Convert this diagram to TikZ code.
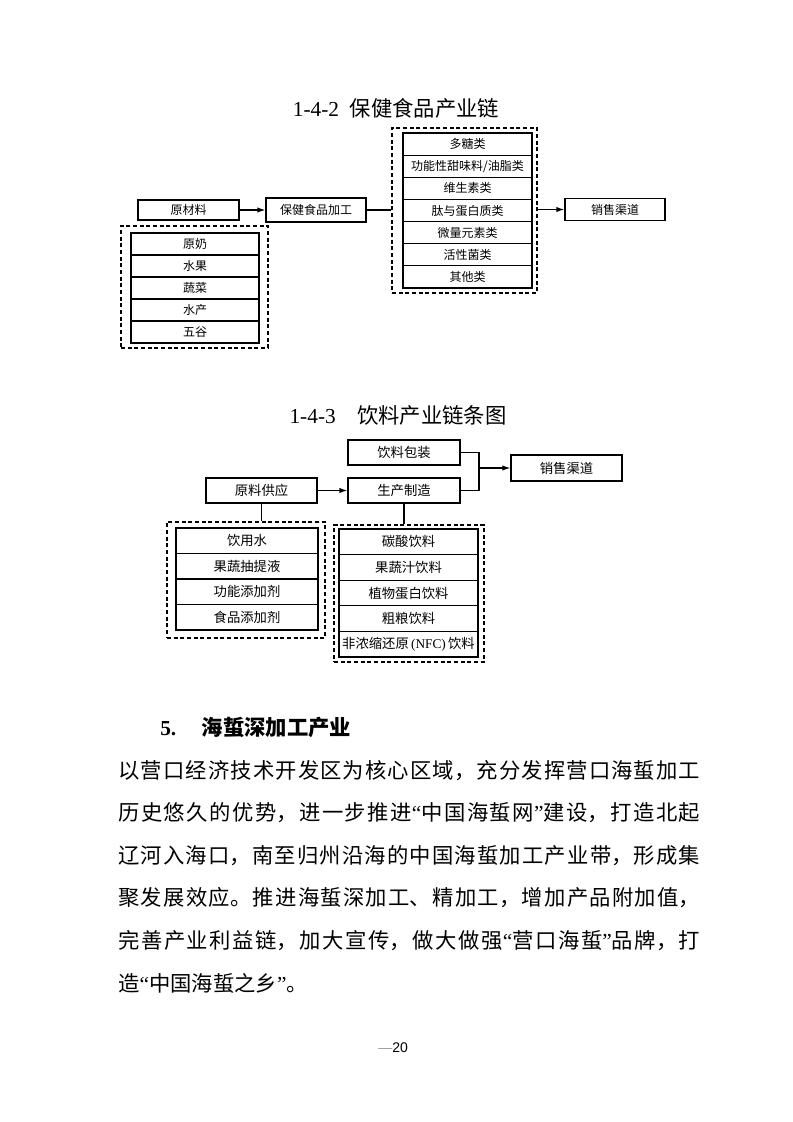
\documentclass[tikz,border=0pt]{standalone}
\usepackage{fontspec}
\setmainfont{Noto Sans CJK SC}
\newfontfamily\latinfont{Liberation Serif}
\newfontfamily\numfont{Liberation Sans}
\usetikzlibrary{arrows.meta,positioning}
\definecolor{ink}{HTML}{000000}
\definecolor{muted}{HTML}{9A9A9A}
\XeTeXlinebreaklocale "zh"
\XeTeXlinebreakskip=0pt plus 2pt
\newcommand{\openq}{{\latinfont “}}
\newcommand{\closeq}{{\latinfont ”}}
\tikzset{
  cell/.style={draw=ink,line width=0.9pt,fill=white,inner sep=0pt,align=center,text=ink},
  smallcell/.style={cell,font=\fontsize{9}{10}\selectfont},
  bigcell/.style={cell,font=\fontsize{10}{11}\selectfont},
  dashbox/.style={draw=ink,line width=0.9pt,dash pattern=on 3pt off 2pt,inner sep=0pt},
  arrow/.style={-{Latex[length=6pt,width=4pt]},line width=0.9pt,color=ink},
  link/.style={line width=0.9pt,color=ink},
  figtitle/.style={font=\fontsize{16}{20}\selectfont,anchor=base,inner sep=0pt,text=ink},
  bodytext/.style={font=\fontsize{16}{31.95}\selectfont,anchor=base west,inner sep=0pt,text width=436.5pt,align=justify,text=ink},
}
\begin{document}
\begin{tikzpicture}[x=0.75pt,y=-0.75pt]
  \path[use as bounding box,fill=white] (0,0) rectangle (793,1122);
  % 1-4-2
  \node[figtitle] (title1) at (396,116) {{\latinfont 1-4-2}\enspace 保健食品产业链};
  \node[smallcell,minimum width=75.75pt,minimum height=15pt] (raw) at (188.5,210) {原材料};
  \node[smallcell,minimum width=75pt,minimum height=18pt] (proc) at (316,210) {保健食品加工};
  \node[smallcell,minimum width=75pt,minimum height=17pt] (sales1) at (615,209.5) {销售渠道};
  \node[dashbox,minimum width=110.25pt,minimum height=91.5pt] (rawset) at (194.5,287) {};
  \foreach \t [count=\i from 0] in {原奶,水果,蔬菜,水产,五谷}
    \node[smallcell,minimum width=96pt,minimum height=16.5pt] (raw\i) at (195,244+22*\i) {\t};
  \node[dashbox,minimum width=108.75pt,minimum height=123.75pt] (prodset) at (464.5,210.5) {};
  \foreach \t [count=\i from 0] in {多糖类,功能性甜味料/油脂类,维生素类,肽与蛋白质类,微量元素类,活性菌类,其他类}
    \node[smallcell,minimum width=96.75pt,minimum height=16.6pt] (cat\i) at (467.5,144.1+22.14*\i) {\t};
  \draw[arrow] (raw) -- (proc);
  \draw[link] (proc.east) -- (proc.east -| prodset.west);
  \draw[arrow] (prodset.east |- sales1.west) -- (sales1.west);

  % 1-4-3
  \node[figtitle] (title2) at (398,423) {{\latinfont 1-4-3}\quad 饮料产业链条图};
  \node[bigcell,minimum width=84pt,minimum height=18.75pt] (pack) at (404,452.5) {饮料包装};
  \node[bigcell,minimum width=84pt,minimum height=18.75pt] (make) at (404,490.5) {生产制造};
  \node[bigcell,minimum width=83.25pt,minimum height=18.75pt] (supply) at (261.5,490.5) {原料供应};
  \node[bigcell,minimum width=83.25pt,minimum height=19.5pt] (sales2) at (566.5,468) {销售渠道};
  \coordinate (fork) at (479,468);
  \node[dashbox,minimum width=118.5pt,minimum height=87pt] (inset) at (246,580) {};
  \foreach \t [count=\i from 0] in {饮用水,果蔬抽提液,功能添加剂,食品添加剂}
    \node[bigcell,minimum width=106.5pt,minimum height=19.125pt] (in\i) at (247,540.75+25.5*\i) {\t};
  \node[dashbox,minimum width=112.5pt,minimum height=102.75pt] (drinkset) at (409,593.5) {};
  \foreach \t [count=\i from 0] in {碳酸饮料,果蔬汁饮料,植物蛋白饮料,粗粮饮料,非浓缩还原{\latinfont\,(NFC)\,}饮料}
    \node[bigcell,minimum width=104.25pt,minimum height=19.2pt] (drink\i) at (408.5,541.8+25.6*\i) {\t};
  \draw[arrow] (supply) -- (make);
  \draw[link] (pack.east) -| (fork) |- (make.east);
  \draw[arrow] (fork) -- (fork -| sales2.west);
  \draw[link] (supply.south) -- (supply.south |- inset.north);
  \draw[link] (make.south) -- (make.south |- drinkset.north);

  % text
  \node[anchor=base west,inner sep=0pt,text=ink,font=\fontsize{16}{20}\selectfont\bfseries] (head) at (160,735) {{\latinfont 5.}\hspace{1.2em}海蜇深加工产业};
  \node[bodytext] (body) at (118,778) {以营口经济技术开发区为核心区域，充分发挥营口海蜇加工\linebreak
    历史悠久的优势，进一步推进\openq 中国海蜇网\closeq 建设，打造北起\linebreak
    辽河入海口，南至归州沿海的中国海蜇加工产业带，形成集\linebreak
    聚发展效应。推进海蜇深加工、精加工，增加产品附加值，\linebreak
    完善产业利益链，加大宣传，做大做强\openq 营口海蜇\closeq 品牌，打\linebreak
    造\openq 中国海蜇之乡\closeq 。};
  \node[anchor=base west,inner sep=0pt,font=\numfont\fontsize{10.5}{12}\selectfont] (pageno) at (378,1052) {{\color{muted}—}20};
\end{tikzpicture}
\end{document}
